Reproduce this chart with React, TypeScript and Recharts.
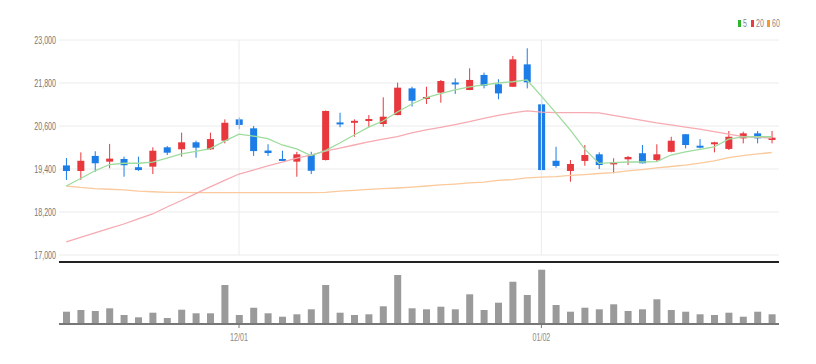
import React from 'react';
import {
  ComposedChart,
  BarChart,
  Bar,
  Line,
  XAxis,
  YAxis,
  CartesianGrid,
  ReferenceLine,
} from 'recharts';

// trading days, Nov 2022 - Jan 2023
const dates = [
  '11/15', '11/16', '11/17', '11/18', '11/21', '11/22', '11/23', '11/24', '11/25', '11/28',
  '11/29', '11/30', '12/01', '12/02', '12/05', '12/06', '12/07', '12/08', '12/09', '12/12',
  '12/13', '12/14', '12/15', '12/16', '12/19', '12/20', '12/21', '12/22', '12/23', '12/26',
  '12/27', '12/28', '12/29', '01/02', '01/03', '01/04', '01/05', '01/06', '01/09', '01/10',
  '01/11', '01/12', '01/13', '01/16', '01/17', '01/18', '01/19', '01/20', '01/25', '01/26',
];

const opens = [
  19500, 19345, 19765, 19605, 19680, 19450, 19465, 20005, 19950, 20145,
  19950, 20190, 20785, 20535, 19915, 19680, 19605, 19790, 19650, 20700,
  20725, 20775, 20655, 20905, 21650, 21390, 21530, 21815, 21605, 22025,
  21765, 21695, 22320, 21205, 19630, 19345, 19625, 19810, 19565, 19670,
  19840, 19650, 19880, 20370, 20050, 20125, 19960, 20255, 20395, 20210,
];
const highs = [
  19705, 19865, 19895, 20100, 19745, 19745, 20005, 20040, 20415, 20190,
  20415, 20785, 20840, 20600, 20090, 19910, 19880, 19880, 21030, 20970,
  20785, 20905, 21400, 21810, 21695, 21695, 21885, 21930, 22210, 22090,
  21905, 22555, 22770, 21375, 20020, 19650, 20070, 19865, 19700, 19765,
  20070, 20090, 20300, 20375, 20235, 20160, 20460, 20440, 20460, 20460,
];
const lows = [
  19095, 19095, 19325, 19420, 19185, 19350, 19260, 19790, 19745, 19715,
  19930, 20115, 20510, 19765, 19765, 19650, 19185, 19260, 19640, 20565,
  20300, 20565, 20580, 20900, 21140, 21215, 21250, 21495, 21600, 21650,
  21345, 21690, 21650, 19365, 19435, 19045, 19490, 19400, 19280, 19510,
  19555, 19605, 19865, 19975, 19975, 19865, 19930, 20115, 20115, 20115,
];
const closes = [
  19345, 19630, 19560, 19690, 19505, 19370, 19910, 19855, 20145, 19995,
  20235, 20690, 20630, 19900, 19845, 19660, 19810, 19350, 21020, 20680,
  20745, 20795, 20860, 21670, 21305, 21410, 21855, 21800, 21885, 21725,
  21510, 22460, 21820, 19370, 19485, 19540, 19790, 19510, 19585, 19735,
  19560, 19810, 20190, 20070, 20035, 20145, 20300, 20395, 20255, 20275,
];
// volume, thousand shares
const volumes = [
  123, 140, 130, 157, 90, 67, 113, 60, 143, 107,
  107, 390, 90, 163, 107, 73, 97, 147, 390, 113,
  90, 97, 177, 490, 157, 147, 173, 147, 297, 140,
  213, 423, 290, 543, 190, 123, 163, 147, 197, 130,
  147, 247, 140, 123, 97, 90, 113, 73, 123, 97,
];

const ma5 = [
  18925, 19135, 19350, 19525, 19560, 19560, 19590, 19705, 19820, 19890,
  19970, 20180, 20375, 20320, 20250, 20070, 19960, 19775, 19915, 20125,
  20350, 20570, 20740, 20990, 21215, 21395, 21505, 21605, 21690, 21745,
  21800, 21835, 21885, 21435, 20965, 20490, 19960, 19555, 19580, 19595,
  19595, 19605, 19790, 19875, 19945, 20015, 20235, 20295, 20300, 20300,
];
const ma20 = [
  17365, 17490, 17615, 17740, 17865, 18005, 18145, 18340, 18520, 18715,
  18900, 19080, 19260, 19370, 19485, 19595, 19705, 19790, 19900, 19985,
  20070, 20155, 20235, 20305, 20405, 20490, 20560, 20640, 20725, 20810,
  20895, 20965, 21020, 20990, 20975, 20975, 20975, 20965, 20895, 20825,
  20755, 20685, 20630, 20570, 20515, 20445, 20375, 20305, 20280, 20265,
];
const ma60 = [
  18925, 18885, 18855, 18835, 18815, 18785, 18765, 18750, 18745, 18740,
  18740, 18740, 18740, 18740, 18740, 18740, 18740, 18740, 18750, 18785,
  18805, 18830, 18850, 18870, 18895, 18925, 18955, 18980, 19010, 19035,
  19080, 19105, 19150, 19175, 19190, 19220, 19245, 19275, 19300, 19345,
  19385, 19430, 19470, 19510, 19565, 19625, 19720, 19775, 19820, 19860,
];

const priceTicks = [17000, 18200, 19400, 20600, 21800, 23000];
const dateTicks = ['12/01', '01/02'];

const RED = '#e8383e';
const BLUE = '#1c7de6';
const FONT = "'Liberation Sans', Arial, sans-serif";

const rows = dates.map((d, i) => ({
  d,
  o: opens[i],
  h: highs[i],
  l: lows[i],
  c: closes[i],
  v: volumes[i],
  m5: ma5[i],
  m20: ma20[i],
  m60: ma60[i],
}));

const Candle = (props: any) => {
  const { x, y, width, height, payload } = props;
  const { o, h, l, c } = payload;
  const top = Math.min(y, y + height);
  const span = Math.abs(height);
  const ppu = span / (h - l || 1);
  const yo = top + (h - o) * ppu;
  const yc = top + (h - c) * ppu;
  const color = c >= o ? RED : BLUE;
  const cx = x + width / 2;
  const bodyTop = Math.min(yo, yc);
  const bodyH = Math.max(2, Math.abs(yo - yc));
  return (
    <g>
      <line x1={cx} x2={cx} y1={top} y2={top + span} stroke={color} strokeWidth={1} />
      <rect x={cx - 3.5} y={bodyTop} width={7} height={bodyH} fill={color} />
    </g>
  );
};

// narrow labels, like the original chart font
const PriceTick = ({ x, y, payload }: any) => (
  <text
    transform={`translate(${x},${y}) scale(0.62,1)`}
    textAnchor="end"
    dy={4}
    fill="#777"
    fontSize={11.5}
    fontFamily={FONT}
  >
    {payload.value.toLocaleString('en-US')}
  </text>
);

const DateTick = ({ x, y, payload }: any) => (
  <text
    transform={`translate(${x},${y}) scale(0.62,1)`}
    textAnchor="middle"
    dy={10}
    fill="#888"
    fontSize={11.5}
    fontFamily={FONT}
  >
    {payload.value}
  </text>
);

const legendItems = [
  { label: '5', color: '#2fb52f' },
  { label: '20', color: '#ec3b42' },
  { label: '60', color: '#f39a2e' },
];

export default function App() {
  return (
    <div style={{ position: 'absolute', left: 0, top: 0, width: 816, height: 364, background: '#fff' }}>
      <div style={{ position: 'absolute', left: 0, top: 0 }}>
        <ComposedChart width={816} height={364} data={rows} margin={{ top: 40, right: 37, bottom: 109, left: 0 }}>
          <CartesianGrid vertical={false} stroke="#ececec" />
          <XAxis dataKey="d" hide />
          <YAxis
            width={59}
            domain={[17000, 23000]}
            ticks={priceTicks}
            allowDataOverflow
            axisLine={false}
            tickLine={false}
            tickSize={0}
            tickMargin={3}
            tick={<PriceTick />}
          />
          <ReferenceLine x="12/01" stroke="#ececec" />
          <ReferenceLine x="01/02" stroke="#ececec" />
          <Line type="linear" dataKey="m60" stroke="#fac99c" strokeWidth={1.3} dot={false} isAnimationActive={false} />
          <Line type="linear" dataKey="m20" stroke="#f6aab2" strokeWidth={1.3} dot={false} isAnimationActive={false} />
          <Line type="linear" dataKey="m5" stroke="#9ddc9d" strokeWidth={1.3} dot={false} isAnimationActive={false} />
          <Bar dataKey={(r: any) => [r.l, r.h]} shape={<Candle />} isAnimationActive={false} />
        </ComposedChart>
      </div>
      <div style={{ position: 'absolute', left: 0, top: 0 }}>
        <BarChart width={816} height={364} data={rows} margin={{ top: 262, right: 37, bottom: 0, left: 59 }}>
          <XAxis
            dataKey="d"
            height={40}
            ticks={dateTicks}
            interval={0}
            axisLine={{ stroke: '#777', strokeWidth: 2 }}
            tickLine={{ stroke: '#777' }}
            tickSize={4}
            tickMargin={3}
            tick={<DateTick />}
          />
          <YAxis hide domain={[0, 620]} />
          <ReferenceLine y={620} stroke="#222" strokeWidth={2} />
          <Bar dataKey="v" fill="#9a9a9a" barSize={7} isAnimationActive={false} />
        </BarChart>
      </div>
      <div
        style={{
          position: 'absolute',
          top: 18,
          left: 738,
          display: 'flex',
          alignItems: 'center',
          fontFamily: FONT,
          fontSize: 10,
          color: '#888',
        }}
      >
        {legendItems.map((it) => (
          <span key={it.label} style={{ display: 'flex', alignItems: 'center', marginRight: 3 }}>
            <span style={{ display: 'inline-block', width: 3, height: 7, background: it.color, marginRight: 2 }} />
            <span style={{ display: 'inline-block', transform: 'scaleX(0.7)', transformOrigin: 'left center', marginRight: it.label.length > 1 ? -3 : -1 }}>
              {it.label}
            </span>
          </span>
        ))}
      </div>
    </div>
  );
}
